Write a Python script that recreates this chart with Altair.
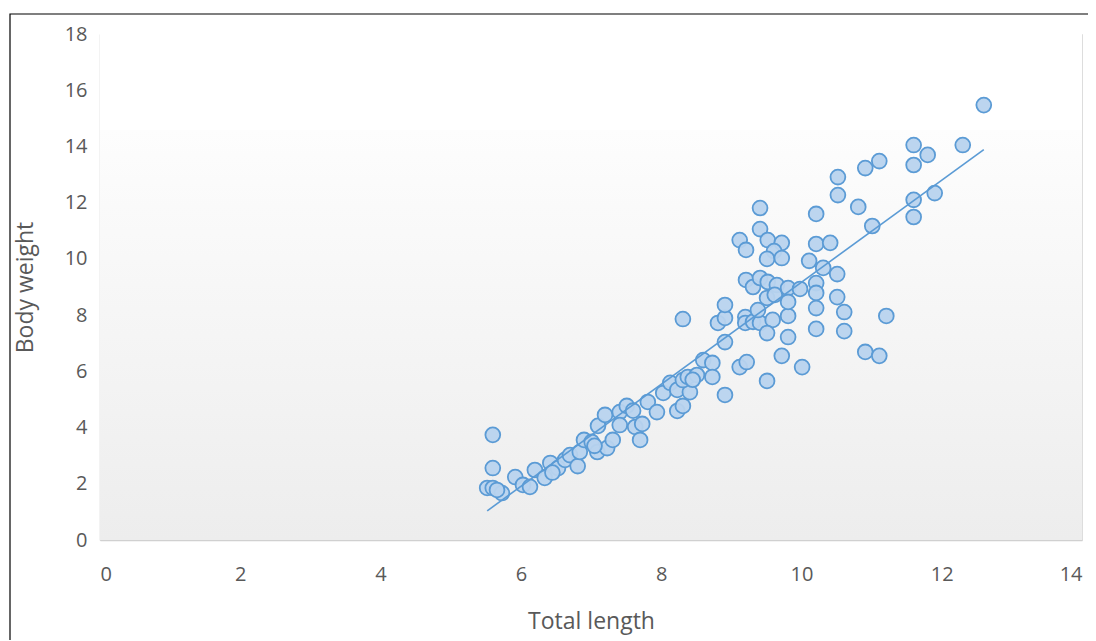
import altair as alt
import pandas as pd

total_length = [
    5.52, 5.60, 5.60, 5.60, 5.73, 5.92, 6.03, 6.13, 6.20, 6.34,
    6.42, 6.53, 6.63, 6.70, 6.81, 6.84, 6.90, 7.01, 7.09, 7.10,
    7.20, 7.23, 7.31, 7.41, 7.51, 7.41, 7.63, 7.73, 7.70, 7.81,
    7.94, 8.03, 8.13, 8.23, 8.41, 8.23, 8.31, 8.31, 8.38, 8.51,
    8.60, 8.73, 8.73, 8.31, 8.91, 8.91, 8.81, 8.91, 8.91, 9.12,
    9.22, 9.51, 9.72, 10.01, 9.20, 9.20, 9.31, 9.41, 9.38, 9.59,
    9.81, 9.51, 9.81, 9.21, 9.31, 9.41, 9.52, 9.65, 9.51, 9.62,
    9.81, 9.81, 9.98, 9.12, 9.21, 9.41, 9.41, 9.52, 9.72, 9.61,
    9.51, 9.72, 10.11, 10.21, 10.41, 10.21, 10.31, 10.51, 10.21, 10.21,
    10.51, 10.21, 10.61, 10.21, 10.61, 11.21, 10.91, 11.11, 10.52, 10.52,
    10.81, 10.91, 11.11, 11.01, 11.60, 11.60, 11.60, 11.60, 11.80, 11.90,
    12.30, 12.60, 5.66, 6.45, 7.05, 7.60, 8.45,
]
body_weight = [
    1.85, 3.74, 2.56, 1.85, 1.67, 2.24, 1.96, 1.89, 2.49, 2.21,
    2.74, 2.56, 2.85, 3.02, 2.63, 3.13, 3.56, 3.49, 3.13, 4.06,
    4.45, 3.27, 3.56, 4.55, 4.77, 4.09, 4.02, 4.13, 3.56, 4.91,
    4.55, 5.23, 5.59, 5.34, 5.26, 4.59, 4.77, 5.69, 5.80, 5.87,
    6.40, 6.30, 5.80, 7.86, 5.16, 7.04, 7.72, 7.90, 8.36, 6.15,
    6.33, 5.66, 6.55, 6.15, 7.93, 7.72, 7.76, 7.72, 8.18, 7.83,
    7.97, 7.36, 7.22, 9.25, 9.00, 9.32, 9.18, 9.07, 8.61, 8.72,
    8.96, 8.47, 8.93, 10.67, 10.32, 11.06, 11.81, 10.67, 10.57, 10.28,
    10.00, 10.03, 9.93, 10.53, 10.57, 11.60, 9.68, 9.46, 9.14, 8.79,
    8.64, 8.25, 8.11, 7.51, 7.43, 7.97, 6.69, 6.55, 12.91, 12.27,
    11.85, 13.23, 13.48, 11.17, 14.05, 13.34, 12.10, 11.49, 13.70, 12.34,
    14.05, 15.47, 1.78, 2.40, 3.35, 4.60, 5.70,
]

x_ticks = [0, 2, 4, 6, 8, 10, 12, 14]
y_ticks = [0, 2, 4, 6, 8, 10, 12, 14, 16, 18]

df = pd.DataFrame({"Total length": total_length, "Body weight": body_weight})

W, H = 982, 506
FONT = "Open Sans"
GREY = "#595959"
BLUE = "#5B9BD5"

x_enc = alt.X(
    "Total length:Q",
    scale=alt.Scale(domain=[0, 14], nice=False),
    axis=alt.Axis(
        values=x_ticks, grid=False, ticks=False, domainColor="#D0D0D0",
        domainWidth=1.5, labelColor=GREY, labelFont=FONT, labelFontSize=20,
        labelPadding=24, title="Total length", titleColor=GREY, titleFont=FONT,
        titleFontSize=23, titleFontWeight="normal", titleX=W / 2, titleY=81,
        titleBaseline="middle", titleAlign="center",
    ),
)
y_enc = alt.Y(
    "Body weight:Q",
    scale=alt.Scale(domain=[0, 18], nice=False),
    axis=alt.Axis(
        values=y_ticks, grid=False, ticks=False, domainColor="#D0D0D0",
        domainWidth=1.5, labelColor=GREY, labelFont=FONT, labelFontSize=20,
        labelPadding=13, title="Body weight", titleColor=GREY, titleFont=FONT,
        titleFontSize=23, titleFontWeight="normal", titleX=-75, titleY=H / 2,
        titleAngle=-90, titleBaseline="middle", titleAlign="center",
    ),
)

gradient = alt.LinearGradient(
    gradient="linear", x1=0, y1=0, x2=0, y2=1,
    stops=[
        alt.GradientStop(offset=0, color="#FFFFFF"),
        alt.GradientStop(offset=0.19, color="#FFFFFF"),
        alt.GradientStop(offset=0.19, color="#FDFDFD"),
        alt.GradientStop(offset=1, color="#EDEDED"),
    ],
)

one = pd.DataFrame({"k": [0]})

background = alt.Chart(one).mark_rect(color=gradient).encode(
    x=alt.value(0), x2=alt.value(W), y=alt.value(0), y2=alt.value(H)
)

base = alt.Chart(df)

points = base.mark_point(
    shape="circle", size=220, filled=True, fill="#B8D3EE", fillOpacity=0.95,
    stroke=BLUE, strokeWidth=1.8, opacity=1,
).encode(x=x_enc, y=y_enc)

trend = base.transform_regression(
    "Total length", "Body weight"
).mark_line(color=BLUE, strokeWidth=1.6).encode(x=x_enc, y=y_enc)

frame = alt.Chart(one).mark_rect(
    fill="#FFFFFF", fillOpacity=0, stroke="#000000", strokeWidth=1.2, clip=False
).encode(
    x=alt.value(-90), x2=alt.value(W + 200), y=alt.value(-20), y2=alt.value(H + 200)
)

chart = alt.layer(background, points, trend, frame).properties(
    width=W, height=H,
    autosize=alt.AutoSizeParams(type="none"),
    padding={"left": 92, "top": 26, "right": 6, "bottom": 100},
).configure_view(stroke=None).configure(background="#FFFFFF")

chart.save("out.html", embed_options={"renderer": "svg", "actions": False})
